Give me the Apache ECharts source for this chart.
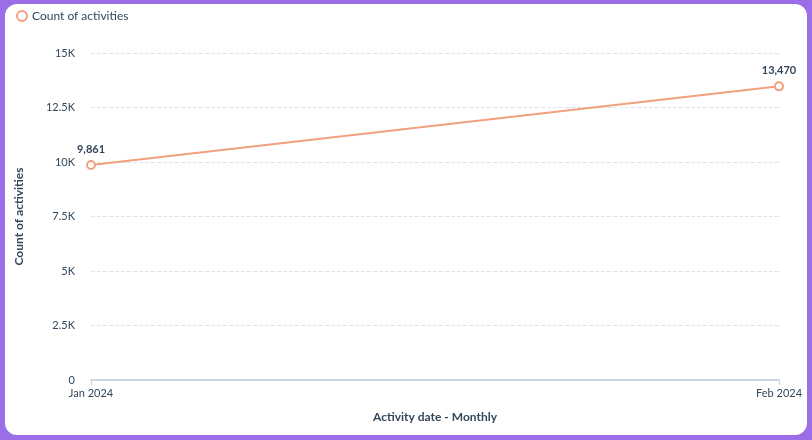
<!DOCTYPE html>
<html>
<head>
<meta charset="utf-8">
<script src="https://cdn.jsdelivr.net/npm/echarts@6/dist/echarts.min.js"></script>
<style>
  html, body { margin: 0; padding: 0; background: #9b6ee8; }
  #frame { position: absolute; left: 5px; top: 4px; width: 802px; height: 431px; background: #fff; border-radius: 12px; overflow: hidden; }
  #chart { width: 802px; height: 431px; }
</style>
</head>
<body>
<div id="frame"><div id="chart"></div></div>
<script>
const months = ['Jan 2024', 'Feb 2024'];
const activityCounts = [9861, 13470];

const chart = echarts.init(document.getElementById('chart'));
chart.setOption({
  animation: false,
  textStyle: { fontFamily: 'Lato, "Noto Sans", sans-serif' },
  legend: {
    left: 6, top: 1,
    itemWidth: 10, itemHeight: 10,
    icon: 'circle',
    textStyle: { color: '#33475b', fontSize: 12 },
    data: [{ name: 'Count of activities', itemStyle: { color: '#fff', borderColor: '#f2a07f', borderWidth: 2 } }]
  },
  grid: { left: 82, right: 28, top: 49, bottom: 55 },
  xAxis: {
    type: 'category',
    data: months,
    boundaryGap: false,
    name: 'Activity date - Monthly',
    nameLocation: 'middle',
    nameGap: 31,
    nameTextStyle: { color: '#33475b', fontWeight: 'bold', fontSize: 12 },
    axisLine: { lineStyle: { color: '#cbd6e2', width: 2 } },
    axisTick: { show: true, lineStyle: { color: '#cbd6e2' } },
    axisLabel: { color: '#33475b', fontSize: 11 }
  },
  yAxis: {
    type: 'value',
    min: 0, max: 15000, interval: 2500,
    name: 'Count of activities',
    nameLocation: 'middle',
    nameGap: 66,
    nameTextStyle: { color: '#33475b', fontWeight: 'bold', fontSize: 12 },
    axisLabel: {
      color: '#33475b', fontSize: 11, margin: 16,
      formatter: v => v === 0 ? '0' : (v / 1000) + 'K'
    },
    splitLine: { lineStyle: { color: '#dfe3eb', type: 'dashed' } }
  },
  series: [{
    name: 'Count of activities',
    type: 'line',
    data: activityCounts,
    symbol: 'circle',
    symbolSize: 8,
    lineStyle: { color: '#f2a07f', width: 2 },
    itemStyle: { color: '#fff', borderColor: '#f2a07f', borderWidth: 2 },
    label: {
      show: true, position: 'top',
      color: '#33475b', fontWeight: 'bold', fontSize: 11,
      formatter: p => p.value.toLocaleString('en-US')
    }
  }]
});
</script>
</body>
</html>
